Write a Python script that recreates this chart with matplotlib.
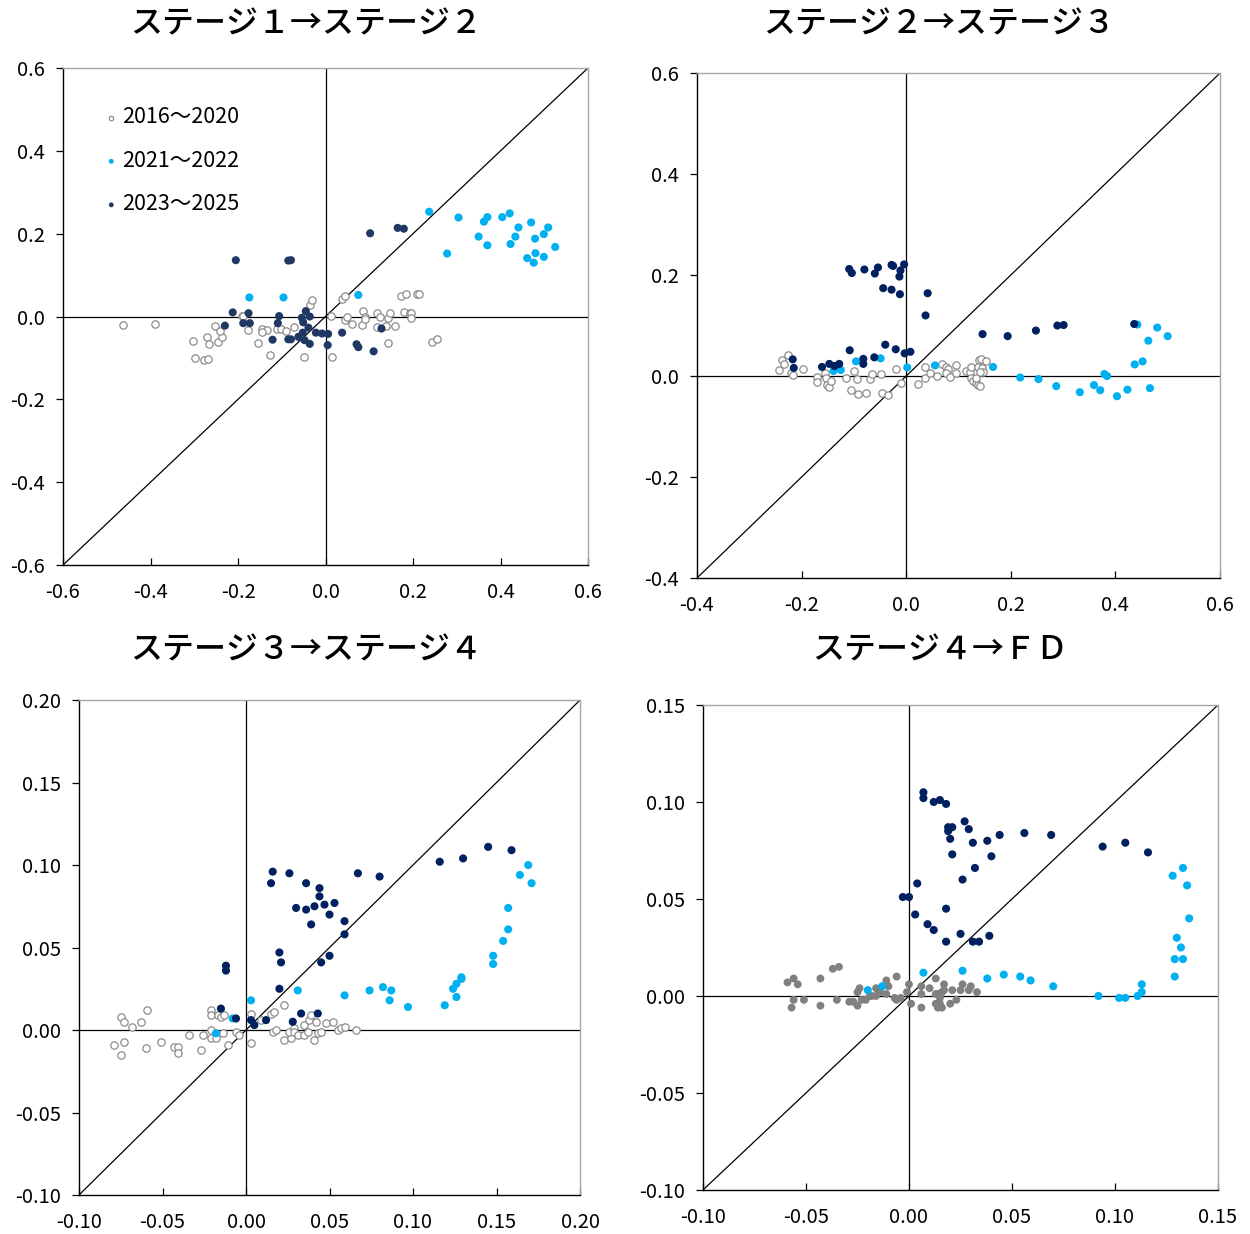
import numpy as np
import matplotlib
matplotlib.use("Agg")
import matplotlib.pyplot as plt
from matplotlib.ticker import FormatStrFormatter, MultipleLocator

plt.rcParams['font.family'] = ['Noto Sans CJK JP', 'DejaVu Sans']
plt.rcParams['axes.unicode_minus'] = False

# ---- データ ----
titles = ["ステージ１→ステージ２", "ステージ２→ステージ３",
          "ステージ３→ステージ４", "ステージ４→ＦＤ"]
labels = ["2016〜2020", "2021〜2022", "2023〜2025"]

# ステージ1→2
g1x = [-0.463, -0.389, -0.304, -0.299, -0.278, -0.268, -0.272, -0.267, -0.246, -0.236, -0.253, -0.242, -0.192, -0.188,
       -0.177, -0.154, -0.145, -0.134, -0.145, -0.127, -0.110, -0.101, -0.090, -0.071, -0.050, -0.035, -0.030, 0.012,
       0.015, 0.038, 0.045, 0.044, 0.048, 0.060, 0.083, 0.086, 0.090, 0.091, 0.118, 0.125, 0.118, 0.138, 0.143, 0.148,
       0.159, 0.143, 0.173, 0.185, 0.210, 0.213, 0.180, 0.192, 0.195, 0.196, 0.243, 0.254]
g1y = [-0.021, -0.017, -0.058, -0.101, -0.105, -0.103, -0.049, -0.067, -0.062, -0.049, -0.022, -0.034, 0.002, 0.002,
       -0.033, -0.065, -0.031, -0.033, -0.037, -0.092, -0.031, -0.031, -0.034, -0.025, -0.098, 0.029, 0.040, 0.002,
       -0.098, 0.042, 0.050, -0.008, 0.000, -0.019, -0.020, 0.013, 0.000, -0.006, 0.009, -0.002, -0.026, -0.023, -0.004,
       0.008, -0.024, -0.065, 0.050, 0.055, 0.055, 0.054, 0.011, 0.008, 0.008, -0.003, -0.062, -0.055]
c1x = [-0.174, -0.096, 0.075, 0.237, 0.304, 0.278, 0.350, 0.362, 0.370, 0.370, 0.404, 0.421, 0.441, 0.434, 0.423,
       0.470, 0.479, 0.509, 0.499, 0.525, 0.480, 0.461, 0.476, 0.499]
c1y = [0.046, 0.046, 0.052, 0.253, 0.239, 0.152, 0.193, 0.229, 0.240, 0.172, 0.240, 0.249, 0.215, 0.193, 0.175,
       0.227, 0.188, 0.215, 0.199, 0.168, 0.153, 0.141, 0.130, 0.144]
n1x = [-0.205, -0.085, -0.079, -0.212, -0.176, -0.230, -0.188, -0.173, -0.121, -0.106, -0.109, -0.085, -0.079, -0.045,
       -0.054, -0.036, -0.051, -0.039, -0.052, -0.062, -0.048, -0.036, -0.022, -0.008, 0.006, 0.005, 0.038, 0.071,
       0.075, 0.102, 0.165, 0.179, 0.110, 0.128]
n1y = [0.136, 0.135, 0.136, 0.010, 0.008, -0.022, -0.016, -0.016, -0.056, 0.001, -0.016, -0.055, -0.055, 0.013,
       -0.003, 0.000, -0.014, -0.027, -0.039, -0.049, -0.057, -0.066, -0.039, -0.041, -0.042, -0.069, -0.039, -0.067,
       -0.074, 0.201, 0.214, 0.212, -0.084, -0.029]

# ステージ2→3
g2x = [-0.238, -0.226, -0.233, -0.243, -0.220, -0.217, -0.198, -0.170, -0.170, -0.155, -0.154, -0.152, -0.147, -0.143,
       -0.116, -0.099, -0.095, -0.106, -0.092, -0.076, -0.070, -0.066, -0.048, -0.046, -0.034, -0.019, -0.009, 0.022,
       0.035, 0.036, 0.046, 0.058, 0.069, 0.076, 0.079, 0.076, 0.083, 0.096, 0.096, 0.115, 0.122, 0.124, 0.124, 0.127,
       0.133, 0.137, 0.141, 0.134, 0.140, 0.143, 0.153, 0.138, 0.145, 0.147, 0.141]
g2y = [0.032, 0.041, 0.024, 0.012, 0.005, 0.002, 0.013, -0.001, -0.011, 0.005, -0.003, -0.018, -0.021, -0.010,
       -0.003, 0.010, -0.006, -0.028, -0.036, -0.034, -0.006, 0.004, 0.004, -0.034, -0.037, 0.014, -0.014, -0.016,
       0.017, -0.003, 0.005, 0.001, 0.024, 0.017, 0.013, 0.005, -0.001, 0.021, 0.005, 0.009, 0.007, 0.017, -0.003,
       -0.010, -0.013, -0.018, -0.019, -0.003, 0.032, 0.034, 0.030, 0.018, 0.015, 0.007, 0.007]
c2x = [-0.096, -0.049, -0.139, -0.125, 0.002, 0.055, 0.166, 0.218, 0.253, 0.287, 0.332, 0.359, 0.371, 0.379, 0.384,
       0.403, 0.423, 0.437, 0.452, 0.466, 0.442, 0.463, 0.480, 0.500]
c2y = [0.029, 0.035, 0.010, 0.012, 0.017, 0.021, 0.018, -0.003, -0.006, -0.020, -0.032, -0.018, -0.028, 0.004, 0.000,
       -0.040, -0.027, 0.023, 0.029, -0.024, 0.102, 0.070, 0.096, 0.079]
n2x = [-0.109, -0.104, -0.080, -0.060, -0.054, -0.028, -0.025, -0.004, -0.011, -0.013, -0.044, -0.028, -0.012, 0.041,
       0.037, 0.146, -0.108, -0.040, -0.020, -0.003, 0.008, -0.061, -0.082, -0.082, -0.217, -0.215, -0.161, -0.147,
       -0.137, -0.128, 0.194, 0.248, 0.289, 0.301, 0.436]
n2y = [0.212, 0.204, 0.211, 0.203, 0.215, 0.220, 0.218, 0.221, 0.209, 0.197, 0.174, 0.171, 0.162, 0.164, 0.120,
       0.083, 0.051, 0.062, 0.053, 0.045, 0.048, 0.037, 0.034, 0.024, 0.033, 0.016, 0.018, 0.024, 0.020, 0.024,
       0.079, 0.090, 0.100, 0.101, 0.103]

# ステージ3→4
g3x = [-0.075, -0.073, -0.068, -0.063, -0.059, -0.079, -0.073, -0.075, -0.060, -0.051, -0.043, -0.041, -0.041, -0.034,
       -0.027, -0.026, -0.021, -0.021, -0.017, -0.015, -0.013, -0.021, -0.021, -0.018, -0.014, -0.011, -0.006, -0.004,
       0.003, 0.003, 0.009, 0.015, 0.017, 0.023, 0.016, 0.018, 0.023, 0.027, 0.026, 0.029, 0.029, 0.031, 0.035, 0.035,
       0.038, 0.039, 0.042, 0.037, 0.041, 0.043, 0.045, 0.048, 0.052, 0.055, 0.057, 0.059, 0.066]
g3y = [0.008, 0.005, 0.002, 0.005, 0.012, -0.009, -0.007, -0.015, -0.011, -0.007, -0.010, -0.010, -0.014, -0.003,
       -0.012, -0.003, 0.012, 0.009, 0.009, 0.008, 0.009, 0.000, -0.005, -0.005, -0.002, -0.009, -0.001, -0.003,
       0.010, -0.008, 0.006, 0.010, 0.011, 0.015, -0.001, 0.000, -0.006, -0.005, -0.001, 0.001, -0.001, -0.003,
       -0.003, 0.003, 0.006, 0.009, 0.005, -0.001, -0.006, -0.002, -0.001, 0.004, 0.005, 0.000, 0.001, 0.002, 0.000]
c3x = [0.003, -0.008, -0.018, 0.031, 0.059, 0.074, 0.082, 0.087, 0.086, 0.097, 0.119, 0.124, 0.126, 0.129, 0.129,
       0.126, 0.148, 0.148, 0.154, 0.157, 0.157, 0.164, 0.169, 0.171]
c3y = [0.018, 0.007, -0.002, 0.024, 0.021, 0.024, 0.026, 0.024, 0.018, 0.014, 0.015, 0.025, 0.028, 0.031, 0.032,
       0.020, 0.045, 0.040, 0.054, 0.061, 0.074, 0.094, 0.100, 0.089]
n3x = [0.016, 0.015, 0.026, 0.036, 0.044, 0.044, 0.030, 0.036, 0.041, 0.047, 0.053, 0.050, 0.039, 0.059, 0.059,
       0.067, 0.020, 0.021, 0.050, 0.045, -0.012, -0.012, 0.020, -0.015, -0.006, 0.003, 0.005, 0.012, 0.028, 0.033,
       0.043, 0.080, 0.116, 0.130, 0.145, 0.159]
n3y = [0.096, 0.089, 0.095, 0.089, 0.086, 0.081, 0.074, 0.073, 0.075, 0.076, 0.077, 0.070, 0.064, 0.066, 0.058,
       0.095, 0.047, 0.041, 0.045, 0.041, 0.039, 0.036, 0.025, 0.013, 0.007, 0.006, 0.003, 0.006, 0.005, 0.010,
       0.010, 0.093, 0.102, 0.104, 0.111, 0.109]

# ステージ4→FD
g4x = [-0.059, -0.056, -0.054, -0.043, -0.037, -0.034, -0.056, -0.057, -0.051, -0.043, -0.035, -0.029, -0.027, -0.025,
       -0.024, -0.025, -0.023, -0.021, -0.019, -0.018, -0.016, -0.016, -0.014, -0.011, -0.010, -0.011, -0.007, -0.006,
       -0.004, -0.006, 0.000, -0.001, 0.001, 0.006, 0.006, 0.006, 0.010, 0.013, 0.013, 0.014, 0.016, 0.017, 0.015,
       0.013, 0.015, 0.014, 0.016, 0.017, 0.021, 0.023, 0.020, 0.025, 0.026, 0.029, 0.030, 0.033]
g4y = [0.007, 0.009, 0.006, 0.009, 0.014, 0.015, -0.002, -0.006, -0.002, -0.005, -0.002, -0.003, -0.003, -0.005,
       0.004, 0.002, -0.002, -0.002, 0.000, 0.000, 0.004, 0.000, 0.002, 0.008, 0.005, 0.001, -0.001, -0.002, -0.001,
       0.010, 0.006, 0.002, -0.004, 0.005, 0.001, -0.006, 0.004, 0.009, 0.001, 0.001, 0.002, 0.003, -0.001, -0.004,
       -0.004, -0.006, -0.006, 0.006, 0.003, -0.002, -0.004, 0.003, 0.006, 0.003, 0.005, 0.002]
c4x = [-0.020, -0.013, 0.007, 0.026, 0.038, 0.046, 0.054, 0.059, 0.070, 0.092, 0.102, 0.105, 0.111, 0.113, 0.113,
       0.129, 0.129, 0.133, 0.132, 0.130, 0.136, 0.135, 0.128, 0.133]
c4y = [0.003, 0.005, 0.012, 0.013, 0.009, 0.011, 0.010, 0.008, 0.005, 0.000, -0.001, -0.001, 0.000, 0.002, 0.006,
       0.010, 0.019, 0.019, 0.025, 0.030, 0.040, 0.057, 0.062, 0.066]
n4x = [0.007, 0.007, 0.012, 0.015, 0.018, 0.027, 0.019, 0.021, 0.019, 0.029, 0.020, 0.031, 0.038, 0.044, 0.056,
       0.069, 0.021, 0.040, 0.032, 0.026, 0.004, -0.003, 0.000, 0.003, 0.018, 0.009, 0.012, 0.018, 0.025, 0.031,
       0.034, 0.039, 0.094, 0.105, 0.116]
n4y = [0.105, 0.102, 0.100, 0.101, 0.099, 0.090, 0.087, 0.087, 0.085, 0.086, 0.081, 0.079, 0.080, 0.083, 0.084,
       0.083, 0.073, 0.072, 0.066, 0.060, 0.058, 0.051, 0.051, 0.042, 0.045, 0.037, 0.034, 0.028, 0.032, 0.028,
       0.028, 0.031, 0.077, 0.079, 0.074]

# 軸範囲と目盛
limits = [(-0.6, 0.6), (-0.4, 0.6), (-0.10, 0.20), (-0.10, 0.15)]
steps = [0.2, 0.2, 0.05, 0.05]
fmts = ['%.1f', '%.1f', '%.2f', '%.2f']

# 図の中の位置
rects = [[0.0504, 0.5421, 0.4200, 0.4028],
         [0.5576, 0.5316, 0.4184, 0.4092],
         [0.0632, 0.0316, 0.4008, 0.4011],
         [0.5624, 0.0357, 0.4120, 0.3930]]
title_pos = [(0.245, 0.980), (0.751, 0.980), (0.245, 0.473), (0.752, 0.473)]

grey = '#8c8c8c'
cyan = '#00b0f0'
navy = '#002060'

panels = [(g1x, g1y, c1x, c1y, n1x, n1y, False),
          (g2x, g2y, c2x, c2y, n2x, n2y, False),
          (g3x, g3y, c3x, c3y, n3x, n3y, False),
          (g4x, g4y, c4x, c4y, n4x, n4y, True)]

fig = plt.figure(figsize=(12.5, 12.34), dpi=100)

for i, (gx, gy, cx, cy, nx, ny, grey_filled) in enumerate(panels):
    ax = fig.add_axes(rects[i])
    lo, hi = limits[i]
    ax.set_xlim(lo, hi)
    ax.set_ylim(lo, hi)

    # 基準線
    ax.axhline(0, color='black', lw=0.9, zorder=1)
    ax.axvline(0, color='black', lw=0.9, zorder=1)
    ax.axline((0, 0), slope=1, color='black', lw=0.9, zorder=1)

    if grey_filled:
        ax.scatter(gx, gy, s=32, color='#808080', edgecolors='none', zorder=2, label=labels[0])
    else:
        ax.scatter(gx, gy, s=28, facecolors='white', edgecolors=grey, linewidths=0.9,
                   zorder=2, label=labels[0])
    ax.scatter(cx, cy, s=34, color=cyan, edgecolors='none', zorder=3, label=labels[1])
    ax.scatter(nx, ny, s=34, color=navy if i else '#1f3864', edgecolors='none', zorder=4, label=labels[2])

    ax.xaxis.set_major_locator(MultipleLocator(steps[i]))
    ax.yaxis.set_major_locator(MultipleLocator(steps[i]))
    ax.xaxis.set_major_formatter(FormatStrFormatter(fmts[i]))
    ax.yaxis.set_major_formatter(FormatStrFormatter(fmts[i]))
    ax.tick_params(axis='y', direction='out', length=5, width=0.9, labelsize=14.5, pad=8)
    ax.tick_params(axis='x', direction='in', length=5, width=0.9, labelsize=14.5, pad=12)

    for side in ['left', 'bottom']:
        ax.spines[side].set_color('black')
        ax.spines[side].set_linewidth(1.0)
    for side in ['top', 'right']:
        ax.spines[side].set_color('#a6a6a6')
        ax.spines[side].set_linewidth(1.0)

    fig.text(title_pos[i][0], title_pos[i][1], titles[i], fontsize=23, fontweight='medium',
             ha='center', va='center')

    if i == 0:
        ax.legend(loc='upper left', bbox_to_anchor=(0.055, 0.94), frameon=False,
                  fontsize=15.5, markerscale=0.6, handletextpad=0.0, handlelength=1.0,
                  labelspacing=1.0, borderaxespad=0)

plt.savefig('out.png', dpi=100)
